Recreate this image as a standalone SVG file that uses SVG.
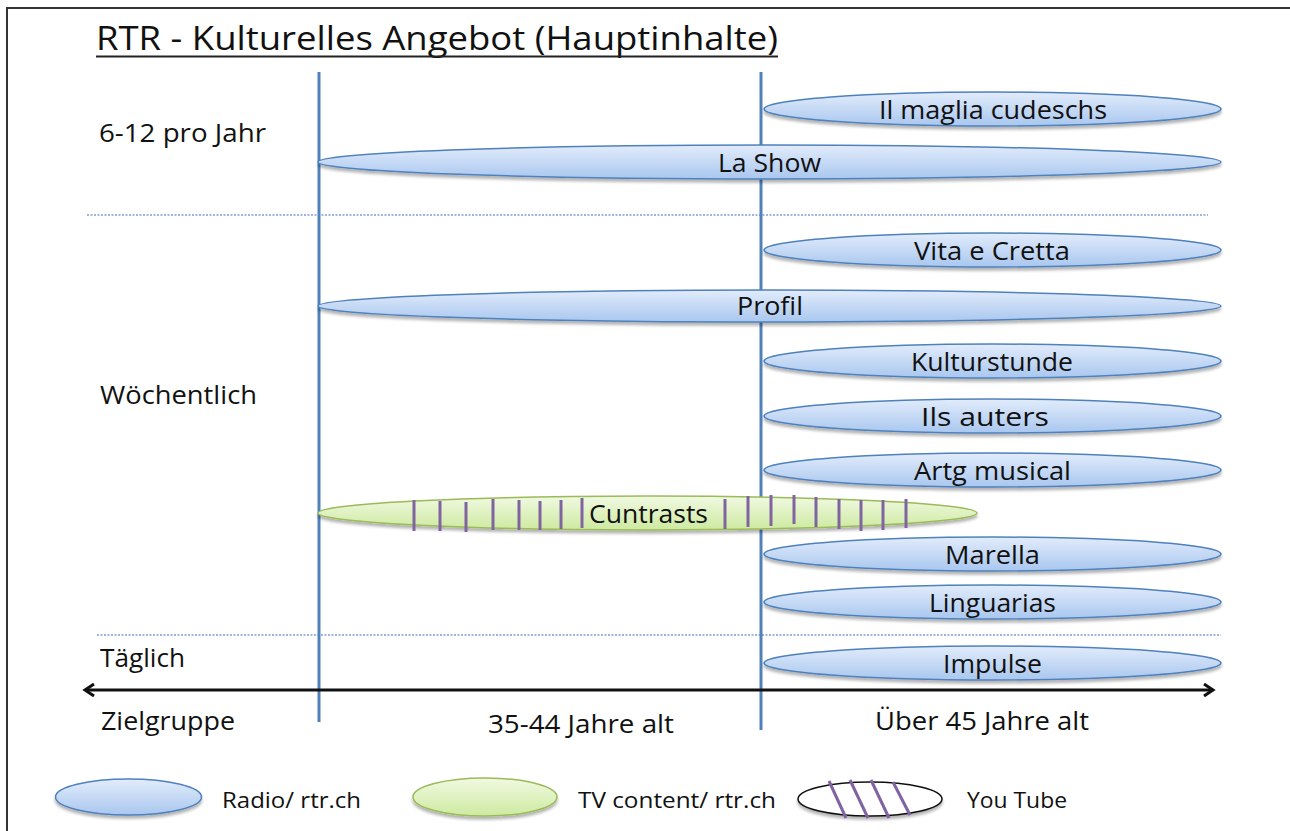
<svg xmlns="http://www.w3.org/2000/svg" width="1290" height="831" viewBox="0 0 1290 831">
<defs>
<linearGradient id="gb" x1="0" y1="0" x2="0" y2="1">
<stop offset="0" stop-color="#e2ecfb"/>
<stop offset="1" stop-color="#a9c7ef"/>
</linearGradient>
<linearGradient id="gg" x1="0" y1="0" x2="0" y2="1">
<stop offset="0" stop-color="#f1f9e2"/>
<stop offset="1" stop-color="#cdeaa0"/>
</linearGradient>
<filter id="sh" x="-5%" y="-30%" width="110%" height="170%">
<feGaussianBlur in="SourceAlpha" stdDeviation="1.5"/>
<feOffset dx="0" dy="2.5" result="b"/>
<feComponentTransfer><feFuncA type="linear" slope="0.3"/></feComponentTransfer>
<feMerge><feMergeNode/><feMergeNode in="SourceGraphic"/></feMerge>
</filter>
<marker id="ah" markerWidth="14" markerHeight="14" refX="11" refY="7" orient="auto-start-reverse" markerUnits="userSpaceOnUse">
<path d="M2,1 L11,7 L2,13" fill="none" stroke="#111" stroke-width="3"/>
</marker>
</defs>
<style>
.t{font-family:"Open Sans","Liberation Sans",sans-serif;fill:#111;}
.lbl{font-size:25px;}
.el{font-size:25.5px;text-anchor:middle;}
.blue{fill:url(#gb);stroke:#4f81bd;stroke-width:1.5;filter:url(#sh);}
.green{fill:url(#gg);stroke:#9bbb59;stroke-width:1.5;filter:url(#sh);}
.vl{stroke:#4f81bd;stroke-width:3;}
.dot{stroke:#7f9fd0;stroke-width:1.5;stroke-dasharray:2 1.5;}
.tick{stroke:#8064a2;stroke-width:3;}
.leg{font-size:21.5px;}
</style>
<rect width="1290" height="831" fill="#fff"/>
<path d="M7,831 V8 H1290" fill="none" stroke="#333" stroke-width="2"/>
<g id="title">
<text class="t" x="96" y="50" font-size="33.5" textLength="682" lengthAdjust="spacingAndGlyphs">RTR - Kulturelles Angebot (Hauptinhalte)</text>
<line x1="96" y1="56.5" x2="778" y2="56.5" stroke="#222" stroke-width="2"/>
</g>
<g id="row-labels" lengthAdjust="spacingAndGlyphs">
<text class="t lbl" x="99" y="142" textLength="167" lengthAdjust="spacingAndGlyphs">6-12 pro Jahr</text>
<text class="t lbl" x="100" y="404" textLength="157" lengthAdjust="spacingAndGlyphs">Wöchentlich</text>
<text class="t lbl" x="100" y="667" textLength="85" lengthAdjust="spacingAndGlyphs">Täglich</text>
<text class="t lbl" x="101" y="730" textLength="134" lengthAdjust="spacingAndGlyphs">Zielgruppe</text>
<text class="t lbl" x="488" y="733" textLength="186" lengthAdjust="spacingAndGlyphs">35-44 Jahre alt</text>
<text class="t lbl" x="875" y="730" textLength="214" lengthAdjust="spacingAndGlyphs">Über 45 Jahre alt</text>
</g>
<g id="connectors">
<line class="dot" x1="87" y1="215" x2="1208" y2="215"/>
<line class="dot" x1="97" y1="635" x2="1221" y2="635"/>
<line class="vl" x1="319" y1="72" x2="319" y2="722"/>
<line class="vl" x1="761" y1="72" x2="761" y2="730"/>
<line x1="85" y1="690" x2="1213" y2="690" stroke="#111" stroke-width="3" marker-start="url(#ah)" marker-end="url(#ah)"/>
</g>
<g id="il-maglia-cudeschs"><ellipse class="blue" cx="992.5" cy="109" rx="228.5" ry="17"/><text class="t el" x="993" y="119" textLength="228" lengthAdjust="spacingAndGlyphs">Il maglia cudeschs</text></g>
<g id="la-show"><ellipse class="blue" cx="769.5" cy="162" rx="451.5" ry="17"/><text class="t el" x="769.5" y="172" textLength="103" lengthAdjust="spacingAndGlyphs">La Show</text></g>
<g id="vita-e-cretta"><ellipse class="blue" cx="992.5" cy="250" rx="228.5" ry="17"/><text class="t el" x="992" y="260" textLength="156" lengthAdjust="spacingAndGlyphs">Vita e Cretta</text></g>
<g id="profil"><ellipse class="blue" cx="769.5" cy="306" rx="451.5" ry="16"/><text class="t el" x="770" y="315" textLength="66" lengthAdjust="spacingAndGlyphs">Profil</text></g>
<g id="kulturstunde"><ellipse class="blue" cx="992.5" cy="361" rx="228.5" ry="17"/><text class="t el" x="992" y="371" textLength="162" lengthAdjust="spacingAndGlyphs">Kulturstunde</text></g>
<g id="ils-auters"><ellipse class="blue" cx="992.5" cy="416" rx="228.5" ry="17"/><text class="t el" x="985" y="426" textLength="128" lengthAdjust="spacingAndGlyphs">Ils auters</text></g>
<g id="artg-musical"><ellipse class="blue" cx="992.5" cy="470" rx="228.5" ry="17"/><text class="t el" x="992.5" y="480" textLength="157" lengthAdjust="spacingAndGlyphs">Artg musical</text></g>
<g id="cuntrasts">
<ellipse class="green" cx="647.5" cy="513" rx="329.5" ry="17"/>
<text class="t el" x="648.5" y="523" textLength="119" lengthAdjust="spacingAndGlyphs">Cuntrasts</text>
<g class="tick">
<line x1="414" y1="500" x2="414" y2="531"/>
<line x1="440" y1="501" x2="440" y2="531"/>
<line x1="466" y1="502" x2="466" y2="532"/>
<line x1="493" y1="499" x2="493" y2="530"/>
<line x1="519" y1="500" x2="519" y2="530"/>
<line x1="540" y1="501" x2="540" y2="530"/>
<line x1="561" y1="500" x2="561" y2="529"/>
<line x1="582" y1="498" x2="582" y2="528"/>
<line x1="725" y1="499" x2="725" y2="529"/>
<line x1="748" y1="496" x2="748" y2="527"/>
<line x1="771" y1="495" x2="771" y2="526"/>
<line x1="794" y1="495" x2="794" y2="524"/>
<line x1="816" y1="497" x2="816" y2="527"/>
<line x1="839" y1="499" x2="839" y2="529"/>
<line x1="861" y1="500" x2="861" y2="531"/>
<line x1="883" y1="500" x2="883" y2="530"/>
<line x1="906" y1="499" x2="906" y2="528"/>
</g>
</g>
<g id="marella"><ellipse class="blue" cx="992.5" cy="554" rx="228.5" ry="17"/><text class="t el" x="992.5" y="564" textLength="95" lengthAdjust="spacingAndGlyphs">Marella</text></g>
<g id="linguarias"><ellipse class="blue" cx="992.5" cy="602" rx="228.5" ry="17"/><text class="t el" x="992.5" y="612" textLength="127" lengthAdjust="spacingAndGlyphs">Linguarias</text></g>
<g id="impulse"><ellipse class="blue" cx="992.5" cy="663" rx="228.5" ry="17"/><text class="t el" x="992.5" y="673" textLength="99" lengthAdjust="spacingAndGlyphs">Impulse</text></g>
<g id="legend-radio"><ellipse class="blue" cx="128.5" cy="797" rx="73" ry="18"/><text class="t leg" x="222" y="808" textLength="139" lengthAdjust="spacingAndGlyphs">Radio/ rtr.ch</text></g>
<g id="legend-tv"><ellipse class="green" cx="485" cy="797" rx="72" ry="19"/><text class="t leg" x="578" y="808" textLength="198" lengthAdjust="spacingAndGlyphs">TV content/ rtr.ch</text></g>
<g id="legend-youtube">
<ellipse cx="870" cy="799" rx="72" ry="17" fill="#fff" stroke="#111" stroke-width="1.5" filter="url(#sh)"/>
<g class="tick">
<line x1="829" y1="781" x2="846" y2="818"/>
<line x1="850" y1="780" x2="868" y2="818"/>
<line x1="871" y1="780" x2="889" y2="818"/>
<line x1="893" y1="782" x2="910" y2="815"/>
</g>
<text class="t leg" x="967" y="808" textLength="100" lengthAdjust="spacingAndGlyphs">You Tube</text>
</g>
</svg>
